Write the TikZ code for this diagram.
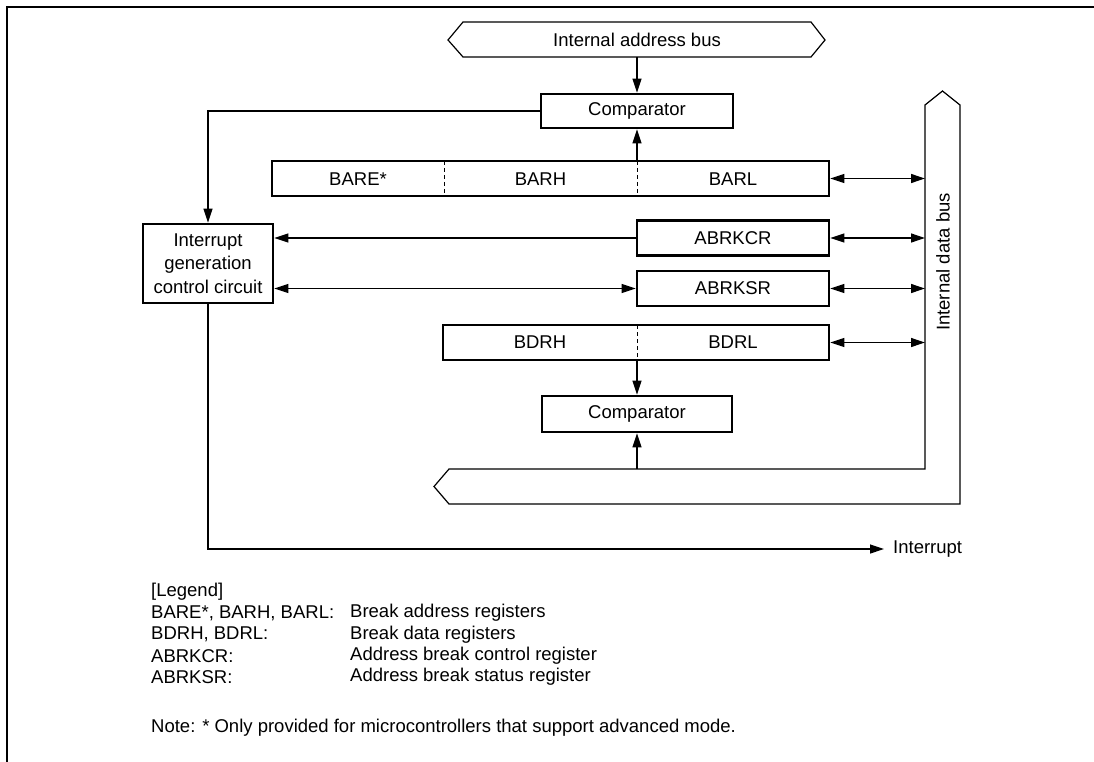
\documentclass[tikz,border=0pt]{standalone}
\usepackage{fontspec}
\setmainfont{Liberation Sans}
\usetikzlibrary{arrows.meta,calc}
\begin{document}
\begin{tikzpicture}[x=1pt,y=-1pt,
  font=\fontsize{18.5}{23.3}\selectfont,
  regbox/.style={draw,line width=2.7pt,rectangle,inner sep=0pt,anchor=center},
  conn/.style={line width=1.2pt},
  arr/.style={conn,-{Triangle[length=14pt,width=9pt]}},
  darr/.style={conn,{Triangle[length=14pt,width=9pt]}-{Triangle[length=14pt,width=9pt]}},
  bus/.style={line width=1.2pt,line join=miter},
  divider/.style={line width=1pt,dash pattern=on 4pt off 3pt},
  lbl/.style={inner sep=0pt,anchor=center},
  leg/.style={inner sep=0pt,anchor=west}
]
\useasboundingbox (0,0) rectangle (1094,762);
% frame
\draw[line width=2.2pt] (7,762) -- (7,7) -- (1094,7);

% internal address bus
\draw[bus] (448,40) -- (463,22) -- (811,22) -- (825,40) -- (811,57) -- (463,57) -- cycle;
\node[lbl] (abus) at (637,40) {Internal address bus};
\coordinate (abusS) at (637,57);

% internal data bus
\draw[bus] (925,469) -- (925,105) -- (942.5,91) -- (960,105) -- (960,504)
  -- (449,504) -- (434,486.5) -- (449,469) -- cycle;
\node[lbl,rotate=90] (dbus) at (943,262) {Internal data bus};
\coordinate (dbL) at (925,300);
\coordinate (dbT) at (637,469);

% comparators
\node[regbox,minimum width=192pt,minimum height=34pt] (cmp1) at (637,111) {Comparator};
\node[regbox,minimum width=190pt,minimum height=36pt] (cmp2) at (637,414) {Comparator};

% BAR register
\node[regbox,minimum width=557pt,minimum height=35pt] (bar) at (550.5,178.5) {};
\draw[divider] (444,161) -- (444,196);
\draw[divider] (637,161) -- (637,196);
\node[lbl] (bare) at (358,179) {BARE*};
\node[lbl] (barh) at (540.5,179) {BARH};
\node[lbl] (barl) at (733,179) {BARL};

% ABRKCR, ABRKSR
\node[regbox,minimum width=192pt,minimum height=35pt] (abrkcr) at (733,238) {ABRKCR};
\node[regbox,minimum width=192pt,minimum height=35pt] (abrksr) at (733,288.5) {ABRKSR};

% BDR register
\node[regbox,minimum width=386pt,minimum height=35pt] (bdr) at (636,342.5) {};
\draw[divider] (637,325) -- (637,360);
\node[lbl] (bdrh) at (540,342.5) {BDRH};
\node[lbl] (bdrl) at (733,342.5) {BDRL};

% interrupt generation control circuit
\node[regbox,minimum width=130pt,minimum height=79pt,align=center] (intc) at (208,263.5)
  {Interrupt\\generation\\control circuit};

% connectors
\draw[arr] (abusS) -- (cmp1.north);
\draw[arr] (cmp1.south |- bar.north) -- (cmp1.south);
\draw[arr] (cmp1.west) -| (intc.north);
\draw[arr] (abrkcr.west) -- (abrkcr.west -| intc.east);
\draw[darr] (intc.east |- abrksr.west) -- (abrksr.west);
\draw[arr] (cmp2.north |- bdr.south) -- (cmp2.north);
\draw[arr] (dbT) -- (cmp2.south);
\draw[darr] (bar.east) -- (bar.east -| dbL);
\draw[darr] (abrkcr.east) -- (abrkcr.east -| dbL);
\draw[darr] (abrksr.east) -- (abrksr.east -| dbL);
\draw[darr] (bdr.east) -- (bdr.east -| dbL);

% interrupt output
\node[leg] (intout) at (893,549) {Interrupt};
\coordinate (intend) at (884,549);
\draw[arr] (intc.south) |- (intend);

% legend
\node[leg] (lg0) at (151,592) {[Legend]};
\node[leg] (lg1) at (151,613) {BARE*, BARH, BARL:};
\node[leg] (lg2) at (151,634.5) {BDRH, BDRL:};
\node[leg] (lg3) at (151,656) {ABRKCR:};
\node[leg] (lg4) at (151,677) {ABRKSR:};
\node[leg] (ld1) at (350,613) {Break address registers};
\node[leg] (ld2) at (350,634.5) {Break data registers};
\node[leg] (ld3) at (350,656) {Address break control register};
\node[leg] (ld4) at (350,677) {Address break status register};
\node[leg] (note) at (151,728) {Note: * Only provided for microcontrollers that support advanced mode.};
\end{tikzpicture}
\end{document}
